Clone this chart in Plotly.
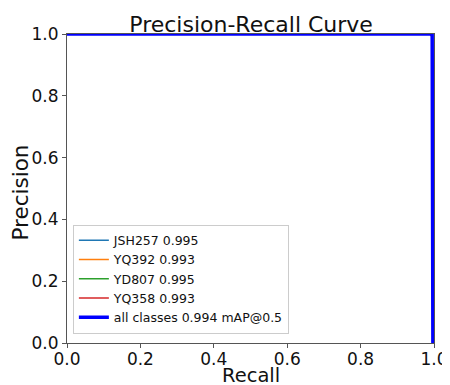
import plotly.graph_objects as go

recall = [0.0, 0.99, 0.995, 0.997, 1.0]
names = ["JSH257 0.995", "YQ392 0.993", "YD807 0.995", "YQ358 0.993"]
colors = ["#1f77b4", "#ff7f0e", "#2ca02c", "#d62728"]
prec_cls = [
    [1.0, 1.0, 1.0, 0.0, 0.0],
    [1.0, 1.0, 0.99, 0.0, 0.0],
    [1.0, 1.0, 1.0, 0.0, 0.0],
    [1.0, 1.0, 0.99, 0.0, 0.0],
]
all_name = "all classes 0.994 mAP@0.5"
prec_all = [1.0, 1.0, 1.0, 0.0, 0.0]
x_title = "Recall"
y_title = "Precision"

fig = go.Figure()
for n, c, p in zip(names, colors, prec_cls):
    fig.add_trace(go.Scatter(x=recall, y=p, mode="lines", name=n,
                             line=dict(color=c, width=1.5)))
fig.add_trace(go.Scatter(x=recall, y=prec_all, mode="lines", name=all_name,
                         line=dict(color="#0000ff", width=3.5)))

axis_common = dict(range=[0, 1], dtick=0.2, tickformat=".1f", showgrid=False,
                   zeroline=False, showline=True, mirror=True, linecolor="#555",
                   linewidth=1, ticks="outside", ticklen=4, tickcolor="#555",
                   tickfont=dict(size=17, color="#111"), automargin=False)
fig.update_xaxes(**axis_common, ticklabelstandoff=-3)
fig.update_yaxes(**axis_common)

fig.add_annotation(text=x_title, xref="paper", yref="paper", x=0.5, y=0,
                   xanchor="center", yanchor="middle", yshift=-32, showarrow=False,
                   font=dict(size=19.5, color="#111"))
fig.add_annotation(text=y_title, xref="paper", yref="paper", x=0, y=0.5,
                   xanchor="center", yanchor="middle", xshift=-47, yshift=-4,
                   textangle=-90, showarrow=False,
                   font=dict(size=21.5, color="#111"))

fig.update_layout(
    width=442, height=377,
    margin=dict(l=59, r=16, t=26, b=42),
    paper_bgcolor="white", plot_bgcolor="white",
    font=dict(family="DejaVu Sans", color="#111"),
    title=dict(text="Precision-Recall Curve", x=0.550, xanchor="center", y=0.958, yanchor="middle",
               font=dict(size=22, color="#111"), automargin=False),
    legend=dict(x=0.016, y=0.03, xanchor="left", yanchor="bottom",
                bgcolor="rgba(255,255,255,0.8)", bordercolor="#ccc", borderwidth=1,
                font=dict(size=12.5, color="#111"), tracegroupgap=0, itemwidth=30),
    showlegend=True,
)
fig.write_html("out.html")
